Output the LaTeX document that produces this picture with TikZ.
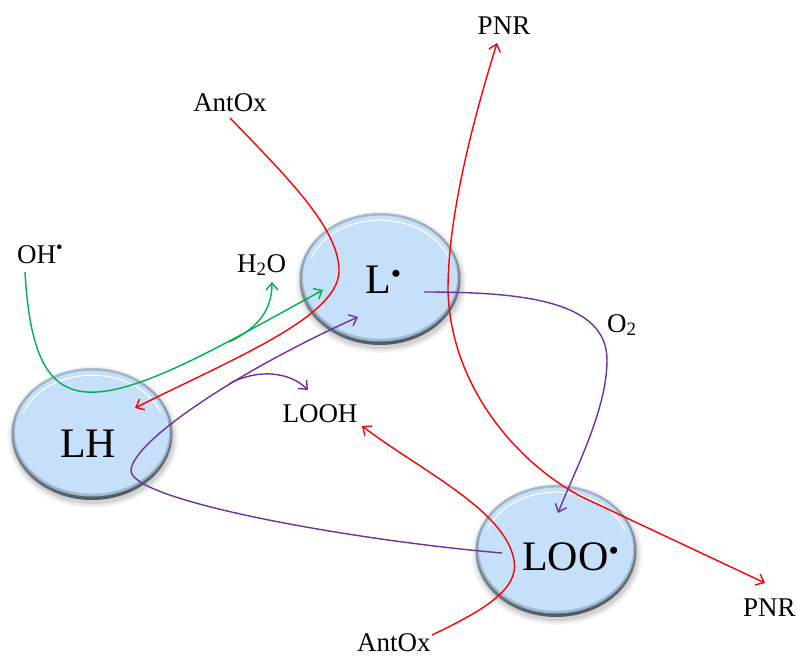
\documentclass[tikz,border=0pt]{standalone}
\usepackage{fontspec}
\setmainfont{Liberation Serif}
\usetikzlibrary{arrows.meta,shapes.geometric}

\definecolor{discblue}{RGB}{198,224,249}
\definecolor{rimlight}{RGB}{170,188,206}
\definecolor{rimdark}{RGB}{78,90,102}
\definecolor{pgreen}{RGB}{0,176,80}
\definecolor{ppurple}{RGB}{112,48,160}
\definecolor{pred}{RGB}{255,0,0}

\tikzset{
  disc/.style={ellipse, minimum width=161pt, minimum height=132pt, inner sep=0pt,
    shading=axis, top color=rimlight, bottom color=rimdark, shading angle=10,
    path picture={
      \fill[discblue!70!rimdark] ([yshift=1pt]path picture bounding box.center)
        ellipse (78.5pt and 63.5pt);
      \fill[discblue] ([yshift=1.8pt]path picture bounding box.center)
        ellipse (77pt and 61.5pt);
      \draw[white, line width=1.3pt, opacity=.85]
        ([yshift=1.8pt]path picture bounding box.center) ++(160:73pt and 57pt)
        arc[start angle=160, end angle=20, x radius=73pt, y radius=57pt];
    }},
  lab/.style={font=\fontsize{27}{30}\selectfont, inner sep=0pt},
  big/.style={font=\fontsize{42}{46}\selectfont, inner sep=0pt},
  tip/.style={-{Straight Barb[length=7pt,width=12pt]}},
  gpath/.style={tip, draw=pgreen, line width=1.4pt},
  rpath/.style={tip, draw=pred, line width=1.4pt},
  ppath/.style={tip, draw=ppurple, line width=1.4pt},
}

\begin{document}
\begin{tikzpicture}[x=1pt, y=-1pt]
\useasboundingbox (0,0) rectangle (797,658);

% soft shadows under the three discs
\foreach \cx/\cy in {380/279, 92/434, 556/551} {
  \foreach \g/\o in {5/0.04, 3/0.06, 1/0.09}
    \fill[black, opacity=\o] (\cx+1,\cy+3) ellipse ({80.5+\g} and {66+\g});
}

% discs
\node[disc] (cL)   at (380,279) {};
\node[disc] (cLH)  at (92,434)  {};
\node[disc] (cLOO) at (556,551) {};

% labels
\node[big, anchor=base west] (L)   at (365,293) {L\textsuperscript{•}};
\node[big, anchor=base west] (LH)  at (60,457)  {LH};
\node[big, anchor=base west] (LOO) at (522,570) {LOO\textsuperscript{•}};

\node[lab, anchor=base]      (pnrT) at (504,35)  {PNR};
\node[lab, anchor=base]      (antT) at (230,112) {AntOx};
\node[lab, anchor=base west] (oh)   at (17,263)  {OH\textsuperscript{•}};
\node[lab, anchor=base west] (h2o)  at (237,272) {H\textsubscript{2}O};
\node[lab, anchor=base west] (o2)   at (607,332) {O\textsubscript{2}};
\node[lab, anchor=base]      (looh) at (320,422) {LOOH};
\node[lab, anchor=base west] (pnrB) at (743,616) {PNR};
\node[lab, anchor=base west] (antB) at (357,651) {AntOx};

% connector ends
\coordinate (ohS)   at (25,272);
\coordinate (Lg)    at (323,290);
\coordinate (gBr)   at (229,342);
\coordinate (h2oT)  at (272,282);
\coordinate (antTs) at (230,118);
\coordinate (LHr)   at (135,408);
\coordinate (pnrTt) at (497,43);
\coordinate (pnrBt) at (765,583);
\coordinate (Lp)    at (424,292);
\coordinate (LOOp)  at (558,513);
\coordinate (LOOs)  at (502,553);
\coordinate (Lq)    at (358,317);
\coordinate (pBr)   at (229,384);
\coordinate (loohP) at (308,390);
\coordinate (antBs) at (432,635);
\coordinate (loohR) at (362,426);

% OH radical abstracts H from LH
\draw[gpath] (ohS) .. controls (30,360) and (50,395) .. (97,392)
  .. controls (150,389) and (240,335) .. (Lg);
\draw[gpath] (gBr) .. controls (258,328) and (272,310) .. (h2oT);

% antioxidant returns L to LH
\draw[rpath] (antTs) .. controls (290,180) and (340,230) .. (339,272)
  .. controls (337,318) and (230,360) .. (LHr);

% non-radical products
\draw[draw=pred, line width=1.4pt,
      {Straight Barb[length=7pt,width=12pt]}-{Straight Barb[length=7pt,width=12pt]}]
  (pnrTt) .. controls (470,130) and (448,220) .. (448,290)
  .. controls (450,380) and (510,458) .. (580,496) -- (pnrBt);

% oxygen addition
\draw[ppath] (Lp) .. controls (520,292) and (607,300) .. (607,360)
  .. controls (607,410) and (575,470) .. (LOOp);

% propagation: LOO + LH -> LOOH + L
\draw[ppath] (LOOs) .. controls (350,540) and (128,500) .. (131,470)
  .. controls (134,440) and (240,370) .. (Lq);
\draw[ppath] (pBr) .. controls (258,368) and (290,372) .. (loohP);

% antioxidant reduces LOO to LOOH
\draw[rpath] (antBs) .. controls (480,612) and (520,590) .. (514,560)
  .. controls (505,510) and (420,470) .. (loohR);
\end{tikzpicture}
\end{document}
